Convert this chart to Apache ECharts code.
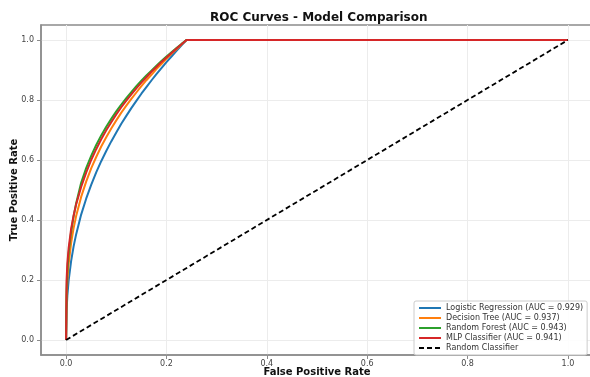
<!DOCTYPE html>
<html>
<head>
<meta charset="utf-8">
<script src="https://cdn.jsdelivr.net/npm/echarts@6/dist/echarts.min.js"></script>
<style>html,body{margin:0;padding:0;background:#fff;}#c{width:590px;height:377px;}</style>
</head>
<body>
<div id="c"></div>
<script>
const fpr = [0, 0.001, 0.0025, 0.005, 0.01, 0.015, 0.02, 0.03, 0.04, 0.05, 0.06, 0.07, 0.08, 0.09, 0.10, 0.11, 0.12, 0.13, 0.14, 0.15, 0.16, 0.17, 0.18, 0.19, 0.20, 0.21, 0.22, 0.23, 0.24, 1.0];
const tprLogistic = [0, 0.10, 0.147, 0.197, 0.263, 0.312, 0.352, 0.418, 0.471, 0.517, 0.559, 0.596, 0.630, 0.662, 0.692, 0.721, 0.747, 0.773, 0.797, 0.821, 0.843, 0.865, 0.886, 0.906, 0.926, 0.945, 0.964, 0.982, 1.0, 1.0];
const tprTree = [0, 0.142, 0.197, 0.252, 0.323, 0.373, 0.413, 0.477, 0.528, 0.572, 0.610, 0.645, 0.676, 0.705, 0.732, 0.758, 0.781, 0.804, 0.825, 0.846, 0.866, 0.884, 0.903, 0.920, 0.937, 0.954, 0.969, 0.985, 1.0, 1.0];
const tprForest = [0, 0.17, 0.23, 0.29, 0.36, 0.413, 0.455, 0.524, 0.573, 0.614, 0.650, 0.682, 0.711, 0.737, 0.762, 0.785, 0.806, 0.826, 0.846, 0.864, 0.882, 0.898, 0.914, 0.930, 0.945, 0.959, 0.973, 0.987, 1.0, 1.0];
const tprMLP = [0, 0.20, 0.255, 0.305, 0.37, 0.415, 0.452, 0.510, 0.558, 0.600, 0.636, 0.669, 0.699, 0.726, 0.752, 0.776, 0.798, 0.819, 0.839, 0.858, 0.876, 0.894, 0.910, 0.927, 0.942, 0.957, 0.972, 0.986, 1.0, 1.0];
const randomX = [0, 1];
const randomY = [0, 1];
const seriesNames = ['Logistic Regression (AUC = 0.929)', 'Decision Tree (AUC = 0.937)', 'Random Forest (AUC = 0.943)', 'MLP Classifier (AUC = 0.941)', 'Random Classifier'];
const tickValues = [0, 0.2, 0.4, 0.6, 0.8, 1.0];
const colors = ['#1f77b4', '#ff7f0e', '#2ca02c', '#d62728', '#000000'];

const FONT = 'DejaVu Sans';
const pairs = (xs, ys) => xs.map((x, i) => [x, ys[i]]);
const tprs = [tprLogistic, tprTree, tprForest, tprMLP];

const series = tprs.map((t, i) => ({
  name: seriesNames[i], type: 'line', data: pairs(fpr, t), showSymbol: false, symbol: 'none',
  lineStyle: { color: colors[i], width: 2 }, itemStyle: { color: colors[i] }, z: 2 + i, animation: false
}));
series.push({
  name: seriesNames[4], type: 'line', data: pairs(randomX, randomY), symbol: 'none',
  lineStyle: { color: '#000', width: 1.8, type: [5, 3] }, itemStyle: { color: '#000' }, z: 6, animation: false
});

const axisCommon = (name, gap, margin) => ({
  type: 'value', min: -0.05, max: 1.05,
  name: name, nameLocation: 'middle', nameGap: gap, nameMoveOverlap: false,
  nameTextStyle: { fontFamily: FONT, fontWeight: 'bold', fontSize: 10, color: '#111' },
  axisLine: { show: true, onZero: false, lineStyle: { color: '#8c8c8c', width: 1.5 } },
  axisTick: { show: true, length: 4, customValues: tickValues, lineStyle: { color: '#8c8c8c', width: 1 } },
  axisLabel: { customValues: tickValues, fontFamily: FONT, fontSize: 8, color: '#444', margin: margin, formatter: v => v.toFixed(1) },
  splitLine: { show: true, lineStyle: { color: '#ececec', width: 1 } }
});

const chart = echarts.init(document.getElementById('c'), null, { renderer: 'canvas' });
chart.setOption({
  backgroundColor: '#fff',
  animation: false,
  title: { text: 'ROC Curves - Model Comparison', left: 210, top: 12, padding: 0,
    textStyle: { fontFamily: FONT, fontWeight: 'bold', fontSize: 12, color: '#111' } },
  grid: { left: 41, top: 25, width: 552, height: 330, outerBoundsMode: 'none', containLabel: false,
    show: true, borderColor: '#8c8c8c', borderWidth: 1.5 },
  xAxis: axisCommon('False Positive Rate', 12, 5),
  yAxis: axisCommon('True Positive Rate', 22, 7),
  legend: {
    show: true, orient: 'vertical', left: 414, top: 301,
    padding: [3, 4, 3, 4], itemWidth: 22, itemHeight: 8, itemGap: 2,
    backgroundColor: 'rgba(255,255,255,0.9)', borderColor: '#cccccc', borderWidth: 1, borderRadius: 2,
    itemStyle: { opacity: 0 },
    textStyle: { fontFamily: FONT, fontSize: 8, color: '#333' },
    data: seriesNames
  },
  series: series
});
</script>
</body>
</html>
